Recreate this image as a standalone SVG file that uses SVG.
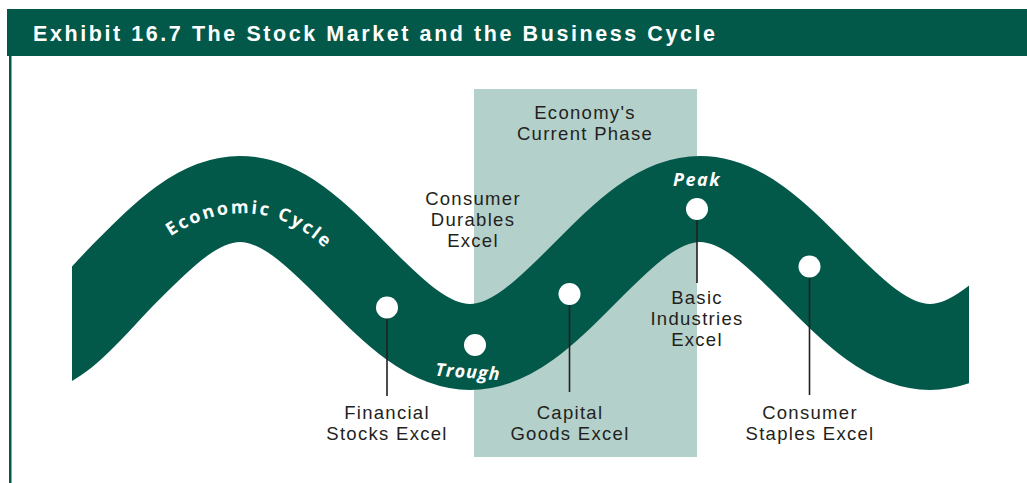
<svg xmlns="http://www.w3.org/2000/svg" width="1027" height="483" viewBox="0 0 1027 483">
<defs>
<style>
.lbl{font-family:"Liberation Sans",Arial,sans-serif;font-size:18.5px;fill:#231f20;text-anchor:middle;letter-spacing:1.3px}
.wt{font-family:"Open Sans","Noto Sans","Liberation Sans",sans-serif;font-weight:bold;fill:#ffffff}
.dot{fill:#ffffff}
.lead{stroke:#231f20;stroke-width:1.6;fill:none}
</style>
<clipPath id="bandClip"><rect x="72" y="100" width="897" height="320"/></clipPath>
<path id="arcText" d="M 160 244 C 210 205 280 195 338 262"/>
</defs>
<rect width="1027" height="483" fill="#ffffff"/>
<g id="header">
<rect x="7" y="9" width="1020" height="47" fill="#02594a"/>
<text x="33" y="41" font-family="'Liberation Sans',Arial,sans-serif" font-weight="bold" font-size="21.5" fill="#ffffff" textLength="682" lengthAdjust="spacing">Exhibit 16.7 The Stock Market and the Business Cycle</text>
<rect x="9" y="56" width="2.5" height="427" fill="#02594a"/>
</g>
<g id="current-phase">
<rect x="474" y="89" width="223" height="368" fill="#b3d0cb"/>
<text class="lbl" x="585" y="119">Economy's</text>
<text class="lbl" x="585" y="140">Current Phase</text>
</g>
<g id="economic-cycle">
<path clip-path="url(#bandClip)" fill="none" stroke="#02594a" stroke-width="86" d="M 15 354 C 58 354 86.56 311.86 125 273 C 163.44 234.14 198.6 199 240 199 C 281.4 199 316.56 234.14 355 273 C 393.44 311.86 428.6 347 470 347 C 511.4 347 546.56 311.86 585 273 C 623.44 234.14 658.6 199 700 199 C 741.4 199 776.56 234.14 815 273 C 853.44 311.86 888.6 347 930 347 C 971.4 347 1006.56 311.86 1045 273"/>
<text class="wt" font-size="18"><textPath href="#arcText" startOffset="13" textLength="168" lengthAdjust="spacing">Economic Cycle</textPath></text>
</g>
<g id="connectors">
<line class="lead" x1="387" y1="318" x2="387" y2="396"/>
<line class="lead" x1="569.5" y1="305" x2="569.5" y2="392"/>
<line class="lead" x1="697" y1="220" x2="697" y2="283"/>
<line class="lead" x1="809.5" y1="277" x2="809.5" y2="395"/>
</g>
<g id="financial">
<circle class="dot" cx="387" cy="307.5" r="11"/>
<text class="lbl" x="387" y="419">Financial</text>
<text class="lbl" x="387" y="440">Stocks Excel</text>
</g>
<g id="trough">
<circle class="dot" cx="475" cy="345" r="11"/>
<text class="wt" font-size="18" font-style="italic" x="468" y="378" text-anchor="middle" letter-spacing="1" transform="rotate(4 468 372)">Trough</text>
</g>
<g id="consumer-durables">
<text class="lbl" x="473" y="205">Consumer</text>
<text class="lbl" x="473" y="226">Durables</text>
<text class="lbl" x="473" y="247">Excel</text>
</g>
<g id="capital-goods">
<circle class="dot" cx="569.5" cy="294" r="11"/>
<text class="lbl" x="570" y="419">Capital</text>
<text class="lbl" x="570" y="440">Goods Excel</text>
</g>
<g id="peak">
<circle class="dot" cx="697" cy="209" r="11"/>
<text class="wt" font-size="18" font-style="italic" x="697" y="186" text-anchor="middle" letter-spacing="1.5">Peak</text>
</g>
<g id="basic-industries">
<text class="lbl" x="697" y="304">Basic</text>
<text class="lbl" x="697" y="325">Industries</text>
<text class="lbl" x="697" y="346">Excel</text>
</g>
<g id="consumer-staples">
<circle class="dot" cx="809.5" cy="266.5" r="11"/>
<text class="lbl" x="810" y="419">Consumer</text>
<text class="lbl" x="810" y="440">Staples Excel</text>
</g>
</svg>
